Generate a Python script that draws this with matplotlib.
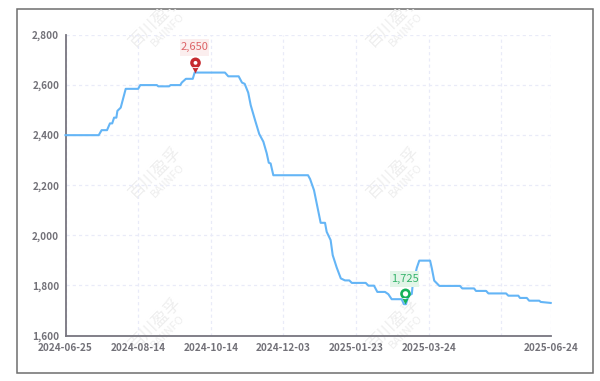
#coding:utf-8
import matplotlib
matplotlib.use('Agg')
import matplotlib.pyplot as plt
from matplotlib.patches import Rectangle
from matplotlib.path import Path
from matplotlib.transforms import ScaledTranslation

plt.rcParams['font.family'] = ['Noto Sans CJK SC', 'DejaVu Sans']

# position along the trading-day axis
days = [0, 16, 17.4, 20, 21.4, 22.5, 23.4, 24.5, 25, 26.6, 29, 35, 36, 44, 44.7, 49.9, 50.6, 55.3, 56, 58,
        61.3, 62.2, 76.8, 78.4, 83.4, 85, 86.3, 88, 89.2, 91.3, 93.3, 95.3, 96.9, 97.9, 98.8, 100.1,
        116.8, 117.8, 119.7, 122.9, 125, 125.8, 127.7, 128.7, 130.6, 132.6, 134.6, 136.7, 137.9,
        144.6, 145.9, 148.6, 150.2, 153.9, 155.5, 157.1, 161.9, 163, 164, 165.1, 166.8, 167.2, 169.2, 170.4,
        175.6, 176.4, 177.6, 180.1, 190, 191.1, 196.8, 197.7, 202.6, 203.7, 212.2, 213.3, 218.1, 218.9,
        222.2, 223.3, 228.2, 228.9, 233.7]
prices = [2400, 2400, 2420, 2420, 2447, 2447, 2470, 2470, 2497, 2510, 2585, 2585, 2600, 2600, 2595, 2595, 2600, 2600, 2610, 2625,
          2625, 2650, 2650, 2635, 2635, 2610, 2605, 2570, 2520, 2460, 2405, 2374, 2328, 2290, 2287, 2240,
          2240, 2225, 2180, 2050, 2050, 2014, 1981, 1921, 1872, 1828, 1820, 1820, 1810,
          1810, 1799, 1799, 1774, 1774, 1765, 1745, 1745, 1725, 1725, 1759, 1766, 1800, 1870, 1899,
          1899, 1870, 1819, 1798, 1798, 1788, 1788, 1778, 1778, 1768, 1768, 1759, 1759, 1750,
          1750, 1739, 1739, 1734, 1730]

tick_pos = [0, 35, 70, 105, 140, 175, 210, 233.7]
tick_labels = ['2024-06-25', '2024-08-14', '2024-10-14', '2024-12-03', '2025-01-23', '2025-03-24', '', '2025-06-24']
y_ticks = [1600, 1800, 2000, 2200, 2400, 2600, 2800]

max_point = (62.2, 2650)
min_point = (163.5, 1725)

W, H = 600.0, 381.0
fig = plt.figure(figsize=(6, 3.81), dpi=100)

# outer screenshot frame
frame = Rectangle((16.5 / W, 1 - 373 / H), 576.5 / W, 364 / H, transform=fig.transFigure,
                  fc='white', ec='#6e6e6e', lw=1.1, zorder=-5)
fig.add_artist(frame)

ax = fig.add_axes([65.5 / W, 1 - 335.5 / H, 485.2 / W, 300.5 / H])
ax.patch.set_alpha(0)

# watermarks
for wx in [155, 393]:
    for wy in [21, 172, 323]:
        t1 = fig.text(wx / W, 1 - wy / H, u'百川盈孚', fontsize=12, color='#eeeeee',
                      rotation=45, ha='center', va='center', zorder=-1)
        t2 = fig.text((wx + 13) / W, 1 - (wy + 9) / H, 'BAIINFO', fontsize=8, color='#eeeeee',
                      rotation=45, ha='center', va='center', zorder=-1)
        t1.set_clip_path(frame)
        t2.set_clip_path(frame)

ax.plot(days, prices, '-', color='#64b5f6', lw=1.5, solid_joinstyle='round', zorder=3, clip_on=False)

ax.set_xlim(0, 233.7)
ax.set_ylim(1600, 2800)
ax.set_xticks(tick_pos)
ax.set_xticklabels(tick_labels)
ax.set_yticks(y_ticks)
ax.set_yticklabels(['{:,}'.format(v) for v in y_ticks])
ax.tick_params(length=0, labelsize=7.2, labelcolor='#727178')
ax.tick_params(axis='y', pad=4.5)
ax.tick_params(axis='x', pad=5.5)
for lab in ax.get_xticklabels() + ax.get_yticklabels():
    lab.set_fontweight('bold')

ax.grid(True, color='#e9ebf8', lw=0.9, ls=(0, (2.5, 2.5)), zorder=0)
ax.set_axisbelow(True)
ax.spines['top'].set_visible(False)
ax.spines['right'].set_visible(False)
for s in ['left', 'bottom']:
    ax.spines[s].set_color('#77757f')
    ax.spines[s].set_linewidth(1.3)

# pin markers, tip on the data point
outer = Path.make_compound_path(Path.circle((0, 2), 1), Path([(-0.62, 1.2), (0.62, 1.2), (0, 0), (-0.62, 1.2)]))
def hole(r):
    return Path.make_compound_path(Path.circle((0, 2), r), Path([(0, 3), (0, 3)], [Path.MOVETO, Path.LINETO]))

def draw_pin(pt, color, hole_r, box_color, text_color):
    ax.plot(*pt, marker=outer, ms=23, mfc=color, mec='none', zorder=5, clip_on=False)
    ax.plot(*pt, marker=hole(hole_r), ms=23, mfc='white', mec='none', zorder=6, clip_on=False)
    # label box measured in pixels above the tip
    tr = fig.dpi_scale_trans + ScaledTranslation(pt[0], pt[1], ax.transData)
    ax.add_patch(Rectangle((-0.145, 0.17), 0.29, 0.165, transform=tr, fc=box_color, ec='none',
                           zorder=7, clip_on=False))
    ax.annotate('{:,}'.format(pt[1]), xy=pt, xytext=(0, 18.3), textcoords='offset points',
                ha='center', va='center', fontsize=8, color=text_color, zorder=8, annotation_clip=False)

draw_pin(max_point, '#c62a2f', 0.36, '#fbeeee', '#dd6468')
draw_pin(min_point, '#14b25a', 0.5, '#e2f5e8', '#35b36a')

plt.savefig('out.png', dpi=100)
